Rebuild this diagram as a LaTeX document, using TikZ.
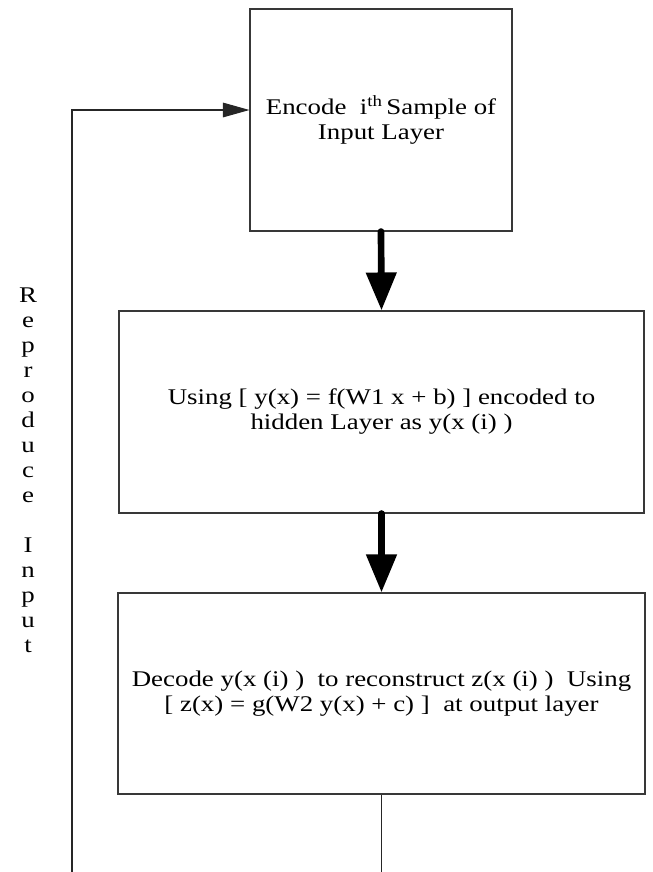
\documentclass[tikz,border=0pt]{standalone}
\usepackage{fontspec}
\setmainfont[FakeStretch=1.2]{Liberation Serif}
\usetikzlibrary{arrows.meta}
\begin{document}
\begin{tikzpicture}[x=0.75pt,y=-0.75pt,
  boxstyle/.style={draw=black!78, line width=0.8pt, inner sep=0pt, align=center,
    font=\fontsize{16.8}{18.75}\selectfont},
  bigarrow/.style={line width=5pt, line cap=round, -{Triangle[length=28.5pt,width=22pt]}},
  thinline/.style={draw=black!85, line width=0.8pt},
  thinarrow/.style={thinline, -{Triangle[length=20pt,width=11pt]}}]
\useasboundingbox (0,0) rectangle (653,872);

\node[boxstyle, minimum width=262*0.75pt, minimum height=222*0.75pt] (b1) at (381,120)
  {Encode\ \ i\textsuperscript{th}\,Sample of\\Input Layer};
\node[boxstyle, minimum width=525*0.75pt, minimum height=202*0.75pt] (b2) at (381.5,412)
  {Using [ y(x) = f(W1 x + b) ] encoded to\\hidden Layer as y(x (i) )};
\node[boxstyle, minimum width=527*0.75pt, minimum height=201*0.75pt] (b3) at (381.5,693.5)
  {Decode y(x (i) )\ \ to reconstruct z(x (i) )\ \ Using\\{}[ z(x) = g(W2 y(x) + c) ]\ \ at output layer};

\node[align=center, inner sep=0pt, font=\fontsize{16.8}{18.75}\selectfont] (lbl) at (28,470)
  {R\\e\\p\\r\\o\\d\\u\\c\\e\\\mbox{}\\I\\n\\p\\u\\t};

\coordinate (bl) at (72,872);

\draw[bigarrow] (b1.south) -- (b2.north);
\draw[bigarrow] (b2.south) -- (b3.north);
\draw[thinline] (b3.south) -- (b3.south |- bl);
\draw[thinarrow] (bl) |- ([yshift=7.5pt]b1.west);
\end{tikzpicture}
\end{document}
